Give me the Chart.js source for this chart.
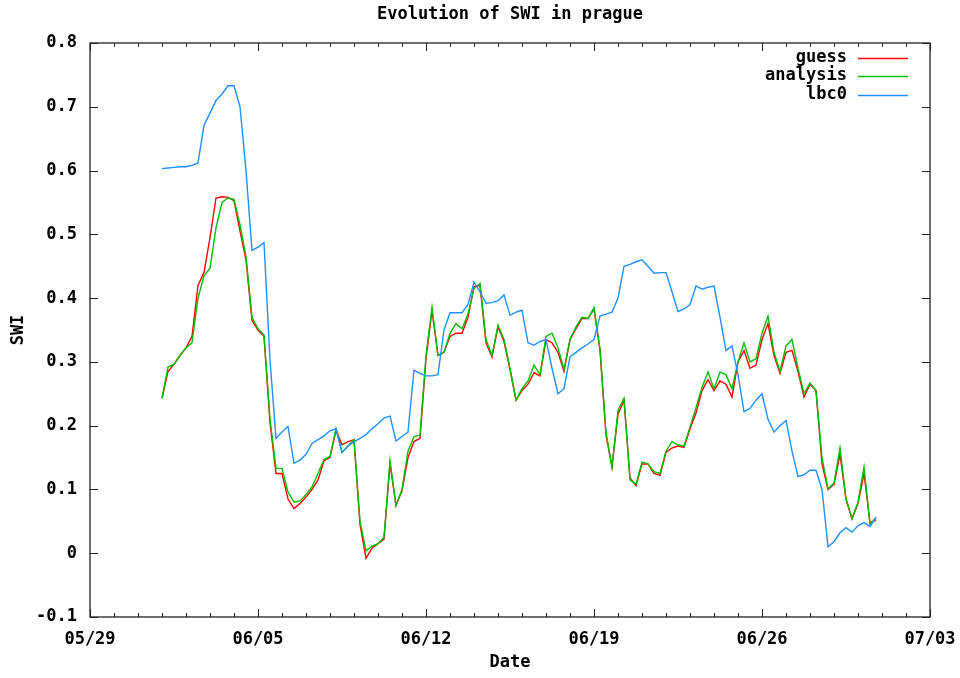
<!DOCTYPE html>
<html>
<head>
<meta charset="utf-8">
<title>Evolution of SWI in prague</title>
<script src="https://cdn.jsdelivr.net/npm/chart.js@4/dist/chart.umd.min.js"></script>
<style>
  html, body { margin: 0; padding: 0; background: #ffffff; }
  #wrap { width: 960px; height: 678px; }
</style>
</head>
<body>
<div id="wrap"><canvas id="chart" width="960" height="678"></canvas></div>
<script>
// Soil wetness index in Prague, 6-hourly values.
// Time is counted in days after 05/29 00:00.
const startDay = 3;        // 06/01 00:00
const stepDays = 0.25;     // 6 hours
const xTickLabels = ['05/29', '06/05', '06/12', '06/19', '06/26', '07/03'];
const seriesNames = ['guess', 'analysis', 'lbc0'];

// one row per day: 00, 06, 12, 18 UTC
const guess = [
  0.243, 0.285, 0.296, 0.310,
  0.322, 0.340, 0.420, 0.440,
  0.495, 0.557, 0.559, 0.558,
  0.553, 0.505, 0.460, 0.365,
  0.350, 0.340, 0.205, 0.125,
  0.125, 0.085, 0.070, 0.078,
  0.088, 0.100, 0.115, 0.145,
  0.150, 0.193, 0.170, 0.175,
  0.178, 0.045, -0.008, 0.008,
  0.015, 0.022, 0.140, 0.075,
  0.098, 0.150, 0.175, 0.180,
  0.305, 0.380, 0.310, 0.315,
  0.340, 0.345, 0.345, 0.370,
  0.418, 0.420, 0.330, 0.308,
  0.355, 0.332, 0.288, 0.240,
  0.255, 0.265, 0.283, 0.278,
  0.335, 0.330, 0.315, 0.285,
  0.335, 0.352, 0.368, 0.368,
  0.383, 0.318, 0.185, 0.135,
  0.218, 0.240, 0.118, 0.106,
  0.140, 0.140, 0.125, 0.122,
  0.158, 0.165, 0.168, 0.166,
  0.195, 0.220, 0.255, 0.272,
  0.255, 0.270, 0.265, 0.245,
  0.300, 0.318, 0.290, 0.295,
  0.335, 0.360, 0.310, 0.282,
  0.315, 0.318, 0.285, 0.245,
  0.265, 0.255, 0.140, 0.100,
  0.108, 0.155, 0.085, 0.054,
  0.078, 0.125, 0.048, 0.052
];

const analysis = [
  0.243, 0.292, 0.296, 0.310,
  0.322, 0.330, 0.400, 0.435,
  0.447, 0.510, 0.550, 0.557,
  0.555, 0.515, 0.465, 0.370,
  0.352, 0.342, 0.210, 0.133,
  0.133, 0.096, 0.080, 0.082,
  0.092, 0.104, 0.125, 0.147,
  0.152, 0.195, 0.158, 0.168,
  0.178, 0.050, 0.004, 0.011,
  0.015, 0.025, 0.145, 0.075,
  0.100, 0.160, 0.183, 0.185,
  0.310, 0.385, 0.310, 0.315,
  0.345, 0.360, 0.352, 0.375,
  0.415, 0.423, 0.335, 0.310,
  0.358, 0.335, 0.290, 0.240,
  0.258, 0.270, 0.295, 0.280,
  0.340, 0.345, 0.322, 0.288,
  0.335, 0.355, 0.370, 0.368,
  0.385, 0.320, 0.190, 0.135,
  0.224, 0.243, 0.115, 0.108,
  0.143, 0.140, 0.128, 0.125,
  0.160, 0.175, 0.170, 0.168,
  0.198, 0.228, 0.260, 0.284,
  0.258, 0.284, 0.280, 0.258,
  0.300, 0.330, 0.300, 0.305,
  0.345, 0.372, 0.315, 0.285,
  0.325, 0.335, 0.290, 0.250,
  0.267, 0.255, 0.150, 0.101,
  0.110, 0.165, 0.085, 0.054,
  0.080, 0.135, 0.045, 0.056
];

const lbc0 = [
  0.603, 0.604, 0.605, 0.606,
  0.606, 0.608, 0.612, 0.671,
  0.690, 0.710, 0.720, 0.733,
  0.733, 0.700, 0.600, 0.475,
  0.480, 0.487, 0.303, 0.180,
  0.190, 0.199, 0.141, 0.146,
  0.155, 0.172, 0.178, 0.184,
  0.192, 0.195, 0.158, 0.168,
  0.175, 0.180, 0.186, 0.195,
  0.203, 0.212, 0.215, 0.176,
  0.183, 0.190, 0.287, 0.282,
  0.278, 0.278, 0.280, 0.350,
  0.377, 0.377, 0.377, 0.390,
  0.425, 0.410, 0.392, 0.393,
  0.396, 0.405, 0.373, 0.378,
  0.381, 0.330, 0.326, 0.332,
  0.335, 0.290, 0.250, 0.258,
  0.308, 0.315, 0.322, 0.328,
  0.335, 0.372, 0.375, 0.378,
  0.400, 0.450, 0.453, 0.457,
  0.460, 0.450, 0.439, 0.440,
  0.440, 0.410, 0.379, 0.383,
  0.390, 0.419, 0.414, 0.417,
  0.419, 0.370, 0.318, 0.325,
  0.280, 0.222, 0.227, 0.240,
  0.250, 0.210, 0.190, 0.200,
  0.208, 0.160, 0.120, 0.123,
  0.130, 0.130, 0.100, 0.010,
  0.018, 0.032, 0.040, 0.033,
  0.043, 0.048, 0.042, 0.056
];

const seriesColors = ['#ff0000', '#00c000', '#1e90ff'];
const FONT = '"DejaVu Sans Mono", "Liberation Mono", monospace';

function toPoints(values) {
  return values.map((v, i) => ({ x: startDay + i * stepDays, y: v }));
}

// title, legend, frame and inward tick marks
const decorations = {
  id: 'decorations',
  afterDatasetsDraw(chart) {
    const { ctx, chartArea: a, scales } = chart;
    const xs = scales.x, ys = scales.y;
    ctx.save();
    // frame
    ctx.strokeStyle = '#222';
    ctx.lineWidth = 1.3;
    ctx.strokeRect(a.left, a.top, a.right - a.left, a.bottom - a.top);
    // day ticks on bottom and top, longer each week
    ctx.beginPath();
    for (let d = xs.min; d <= xs.max; d++) {
      const px = Math.round(xs.getPixelForValue(d)) + 0.5;
      const len = d % 7 === 0 ? 8 : 4;
      ctx.moveTo(px, a.bottom); ctx.lineTo(px, a.bottom - len);
      ctx.moveTo(px, a.top); ctx.lineTo(px, a.top + len);
    }
    // value ticks on left and right
    ys.ticks.forEach(t => {
      const py = Math.round(ys.getPixelForValue(t.value)) + 0.5;
      ctx.moveTo(a.left, py); ctx.lineTo(a.left + 8, py);
      ctx.moveTo(a.right, py); ctx.lineTo(a.right - 8, py);
    });
    ctx.lineWidth = 1;
    ctx.stroke();
    ctx.restore();
  },
  afterDraw(chart) {
    const { ctx, chartArea: a } = chart;
    ctx.save();
    ctx.fillStyle = '#000';
    ctx.font = 'bold 17px ' + FONT;
    ctx.textBaseline = 'middle';
    ctx.textAlign = 'center';
    ctx.fillText('Evolution of SWI in prague', (a.left + a.right) / 2, 15);
    // legend, top right inside the frame
    const rows = [58, 76, 95];
    seriesNames.forEach((name, i) => {
      ctx.textAlign = 'right';
      ctx.fillStyle = '#000';
      ctx.fillText(name, 847, rows[i]);
      ctx.strokeStyle = seriesColors[i];
      ctx.lineWidth = 1.4;
      ctx.beginPath();
      ctx.moveTo(858, rows[i] + 0.5);
      ctx.lineTo(908, rows[i] + 0.5);
      ctx.stroke();
    });
    ctx.restore();
  }
};

const tickFont = { family: FONT, size: 17, weight: 'bold' };

new Chart(document.getElementById('chart'), {
  type: 'line',
  data: {
    datasets: [guess, analysis, lbc0].map((vals, i) => ({
      label: seriesNames[i],
      data: toPoints(vals),
      borderColor: seriesColors[i],
      backgroundColor: seriesColors[i],
      borderWidth: 1.4,
      pointRadius: 0,
      tension: 0,
      fill: false,
      order: 3 - i
    }))
  },
  options: {
    responsive: false,
    animation: false,
    devicePixelRatio: 1,
    layout: { padding: { top: 43, right: 30, left: 0, bottom: 0 } },
    plugins: {
      legend: { display: false },
      title: { display: false },
      tooltip: { enabled: false }
    },
    scales: {
      x: {
        type: 'linear',
        min: 0,
        max: 35,
        border: { display: false },
        grid: { display: false, drawTicks: false },
        ticks: {
          stepSize: 7,
          autoSkip: false,
          maxRotation: 0,
          padding: 12,
          color: '#000',
          font: tickFont,
          callback: v => xTickLabels[Math.round(v / 7)]
        },
        title: {
          display: true, text: 'Date', color: '#000',
          font: tickFont, padding: { top: 0, bottom: 5 }
        },
        afterFit: s => { s.height = 61; s.paddingLeft = 0; s.paddingRight = 0; }
      },
      y: {
        min: -0.1,
        max: 0.8,
        border: { display: false },
        grid: { display: false, drawTicks: false },
        ticks: {
          stepSize: 0.1,
          padding: 13,
          color: '#000',
          font: tickFont,
          callback: v => Math.abs(v) < 1e-9 ? '0' : v.toFixed(1)
        },
        title: {
          display: true, text: 'SWI', color: '#000',
          font: tickFont, padding: { top: 8, bottom: 0 }
        },
        afterFit: s => { s.width = 90; s.paddingTop = 0; s.paddingBottom = 0; }
      }
    }
  },
  plugins: [decorations]
});
</script>
</body>
</html>
